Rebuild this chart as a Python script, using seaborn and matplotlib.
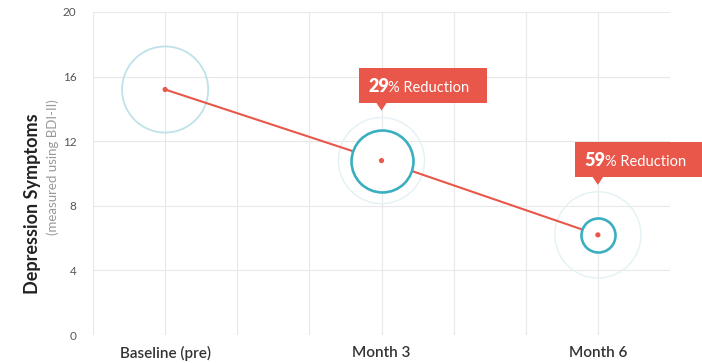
import matplotlib.pyplot as plt
import matplotlib.patches as mpatches
from matplotlib.transforms import IdentityTransform
import seaborn as sns
import pandas as pd

timepoints = ["Baseline (pre)", "Month 3", "Month 6"]
scores = [15.2, 10.8, 6.2]
reductions = ["", "29", "59"]
# circle sizes (marker area) for the inner ring and the faint outer halo
ring_sizes = [3844, 1990, 600]
ring_styles = ["light", "strong", "strong"]

RED = "#e8574a"
TEAL = "#3aafc0"
LIGHT = "#bfe2ea"
FAINT = "#e4f1f4"


def main():
    sns.set_theme(style="whitegrid")
    plt.rcParams["font.family"] = ["Lato", "DejaVu Sans"]

    data = pd.DataFrame({"x": range(len(timepoints)), "score": scores})

    fig = plt.figure(figsize=(7.02, 3.63), dpi=100)
    ax = fig.add_axes([93 / 702, 28 / 363, 577 / 702, 323 / 363])
    ax.set_xlim(-1 / 3, 7 / 3)
    ax.set_ylim(0, 20)

    sns.lineplot(data=data, x="x", y="score", color=RED, linewidth=1.5, ax=ax, zorder=2)

    # halos and rings (the strong rings are white inside and hide the line)
    for i, (x, y) in enumerate(zip(data["x"], data["score"])):
        if ring_styles[i] == "strong":
            ax.scatter([x], [y], s=3844, facecolors="none", edgecolors=FAINT, linewidths=1.0, zorder=1)
            ax.scatter([x], [y], s=ring_sizes[i], facecolors="white", edgecolors=TEAL, linewidths=1.9, zorder=3)
        else:
            ax.scatter([x], [y], s=ring_sizes[i], facecolors="none", edgecolors=LIGHT, linewidths=1.3, zorder=1)

    sns.scatterplot(data=data, x="x", y="score", color=RED, s=14, edgecolor="none", ax=ax, zorder=4)

    ax.set_xticks(range(len(timepoints)))
    ax.set_xticks([i / 3 for i in range(-1, 8)], minor=True)
    ax.set_xticklabels(timepoints, fontsize=11, fontweight="semibold", color="#333333")
    ax.set_yticks(range(0, 21, 4))
    ax.tick_params(axis="y", labelsize=8.5, labelcolor="#555555", pad=12)
    ax.tick_params(axis="x", pad=8)
    ax.tick_params(which="both", length=0)
    ax.grid(True, which="both", color="#e8e8e8", linewidth=0.8)
    ax.set_axisbelow(True)
    for s in ax.spines.values():
        s.set_visible(False)
    ax.set_xlabel("")
    ax.set_ylabel("")

    fig.text(33 / 702, 1 - 204 / 363, "Depression Symptoms", rotation=90, ha="center", va="center",
             fontsize=13, fontweight="bold", color="#222222")
    fig.text(53 / 702, 1 - 167 / 363, "(measured using BDI-II)", rotation=90, ha="center", va="center",
             fontsize=9.5, color="#999999")

    # callout boxes
    for i, (x, y) in enumerate(zip(data["x"], data["score"])):
        if not reductions[i]:
            continue
        px, py = ax.transData.transform((x, y))
        box = mpatches.Rectangle((px - 23, py + 58), 128, 35, facecolor=RED, edgecolor="none",
                                 transform=IdentityTransform(), clip_on=False, zorder=5)
        ax.add_artist(box)
        tri = mpatches.Polygon([(px - 6, py + 59), (px + 6, py + 59), (px, py + 50)], closed=True,
                               facecolor=RED, edgecolor="none", transform=IdentityTransform(),
                               clip_on=False, zorder=5)
        ax.add_artist(tri)
        t1 = ax.annotate(reductions[i], xy=(x, y), xytext=(-13, 69), textcoords="offset pixels",
                         ha="left", va="baseline", fontsize=13, fontweight="heavy", color="white",
                         zorder=6, annotation_clip=False)
        ax.annotate("% Reduction", xy=(1, 0), xycoords=t1, xytext=(-1, 0), textcoords="offset pixels",
                    ha="left", va="bottom", fontsize=10.5, color="white", zorder=6)

    plt.savefig("out.png", dpi=100)
    plt.close()


if __name__ == "__main__":
    main()
